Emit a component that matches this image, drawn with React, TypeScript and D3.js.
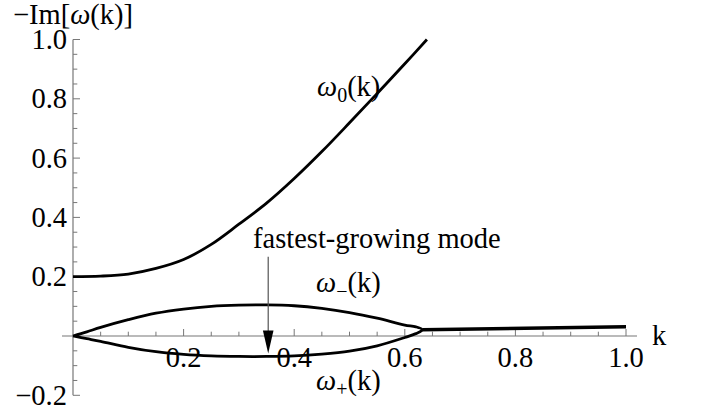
import React from "react";
import * as d3 from "d3";

// ω0(k) branch
const k0 = [0, 0.05, 0.1, 0.15, 0.2, 0.25, 0.3, 0.35, 0.4, 0.45, 0.5, 0.55, 0.6, 0.64];
const w0 = [0.2, 0.202, 0.209, 0.228, 0.258, 0.309, 0.377, 0.448, 0.531, 0.622, 0.719, 0.818, 0.918, 1.0];

// ω−(k) (upper) and ω+(k) (lower) before they merge
const kLens = [0, 0.025, 0.05, 0.1, 0.15, 0.2, 0.25, 0.3, 0.35, 0.4, 0.45, 0.5, 0.55, 0.6, 0.62];
const wMinus = [0, 0.014, 0.029, 0.055, 0.077, 0.091, 0.1, 0.104, 0.105, 0.102, 0.093, 0.079, 0.06, 0.037, 0.031];
const wPlus = [0, -0.009, -0.018, -0.038, -0.053, -0.062, -0.067, -0.069, -0.069, -0.067, -0.061, -0.051, -0.033, -0.005, 0.008];
const kCusp = 0.632;
const wCusp = 0.021;

// merged branch after the branch point
const kMerged = [0.632, 1.0];
const wMerged = [0.021, 0.031];

// fastest-growing mode
const kFast = 0.353;
const wFast = -0.059;

const xTicks = [0.2, 0.4, 0.6, 0.8, 1.0];
const xTickLabels = ["0.2", "0.4", "0.6", "0.8", "1.0"];
const yTicks = [-0.2, 0.2, 0.4, 0.6, 0.8, 1.0];
const yTickLabels = ["\u22120.2", "0.2", "0.4", "0.6", "0.8", "1.0"];

const W = 704;
const H = 416;
const FONT = "'Liberation Serif', 'Times New Roman', serif";
const FS = 28.5;
const SUB = 20;
const AXIS = "#777";

export default function App() {
  const x = d3.scaleLinear().domain([0, 1]).range([73, 626]);
  const y = d3.scaleLinear().domain([-0.2, 1.0]).range([395.3, 39.5]);

  const line = d3
    .line<[number, number]>()
    .x((d) => x(d[0]))
    .y((d) => y(d[1]))
    .curve(d3.curveCatmullRom.alpha(0.5));

  const w0Pts: [number, number][] = k0.map((k, i) => [k, w0[i]]);
  const lensPts: [number, number][] = [
    ...kLens.map((k, i) => [k, wMinus[i]] as [number, number]),
    [kCusp, wCusp],
    ...kLens
      .map((k, i) => [k, wPlus[i]] as [number, number])
      .reverse(),
  ];
  const mergedPts: [number, number][] = kMerged.map((k, i) => [k, wMerged[i]]);

  const minorX = d3.range(0.05, 1.0001, 0.05).filter((v) => Math.abs(v * 5 - Math.round(v * 5)) > 1e-6);
  const minorY = d3.range(-0.15, 0.9501, 0.05).filter((v) => Math.abs(v * 5 - Math.round(v * 5)) > 1e-6 && Math.abs(v) > 1e-6);

  const y0 = y(0);
  const xa = x(0);

  const arrowTop = 256.7;
  const tipY = y(wFast);
  const ax = x(kFast);

  return (
    <svg
      width={W}
      height={H}
      style={{ position: "absolute", left: 0, top: 0, background: "#fff", fontFamily: FONT }}
    >
      {/* axes */}
      <line x1={62} x2={637} y1={y0} y2={y0} stroke={AXIS} strokeWidth={1.2} />
      <line x1={xa} x2={xa} y1={y(1.0)} y2={y(-0.2)} stroke={AXIS} strokeWidth={1.2} />
      {xTicks.map((t) => (
        <line key={"xt" + t} x1={x(t)} x2={x(t)} y1={y0} y2={y0 - 7} stroke={AXIS} strokeWidth={1} />
      ))}
      {minorX.map((t) => (
        <line key={"xm" + t} x1={x(t)} x2={x(t)} y1={y0} y2={y0 - 4.3} stroke={AXIS} strokeWidth={1} />
      ))}
      {yTicks.map((t) => (
        <line key={"yt" + t} x1={xa} x2={xa + 7} y1={y(t)} y2={y(t)} stroke={AXIS} strokeWidth={1} />
      ))}
      {minorY.map((t) => (
        <line key={"ym" + t} x1={xa} x2={xa + 4.3} y1={y(t)} y2={y(t)} stroke={AXIS} strokeWidth={1} />
      ))}
      {xTicks.map((t, i) => (
        <text key={"xl" + t} x={x(t)} y={y0 + 30.7} fontSize={FS} textAnchor="middle" fill="#000">
          {xTickLabels[i]}
        </text>
      ))}
      {yTicks.map((t, i) => (
        <text key={"yl" + t} x={67} y={y(t) + 9.4} fontSize={FS} textAnchor="end" fill="#000">
          {yTickLabels[i]}
        </text>
      ))}
      <text x={13} y={24} fontSize={FS} fill="#000">
        {"\u2212Im["}
        <tspan fontStyle="italic">ω</tspan>
        {"(k)]"}
      </text>
      <text x={652} y={345} fontSize={FS} fill="#000">
        k
      </text>

      {/* curves */}
      <path d={line(w0Pts) || ""} fill="none" stroke="#000" strokeWidth={2.8} />
      <path d={line(lensPts) || ""} fill="none" stroke="#000" strokeWidth={2.8} strokeLinejoin="round" />
      <path d={line(mergedPts) || ""} fill="none" stroke="#000" strokeWidth={3.4} />

      {/* annotation arrow */}
      <line x1={ax} x2={ax} y1={arrowTop} y2={tipY - 18} stroke="#555" strokeWidth={1.2} />
      <path d={`M${ax - 5.3},${tipY - 23} L${ax + 5.3},${tipY - 23} L${ax},${tipY} Z`} fill="#000" />

      {/* labels */}
      <text x={253} y={248.3} fontSize={FS} fill="#000">
        fastest-growing mode
      </text>
      <text x={317} y={96} fontSize={FS} fill="#000">
        <tspan fontStyle="italic">ω</tspan>
        <tspan fontSize={SUB} dy={6}>0</tspan>
        <tspan dy={-6}>(k)</tspan>
      </text>
      <text x={316} y={291.5} fontSize={FS} fill="#000">
        <tspan fontStyle="italic">ω</tspan>
        <tspan fontSize={SUB} dy={6}>{"\u2212"}</tspan>
        <tspan dy={-6}>(k)</tspan>
      </text>
      <text x={316} y={389.5} fontSize={FS} fill="#000">
        <tspan fontStyle="italic">ω</tspan>
        <tspan fontSize={SUB} dy={6}>+</tspan>
        <tspan dy={-6}>(k)</tspan>
      </text>
    </svg>
  );
}
